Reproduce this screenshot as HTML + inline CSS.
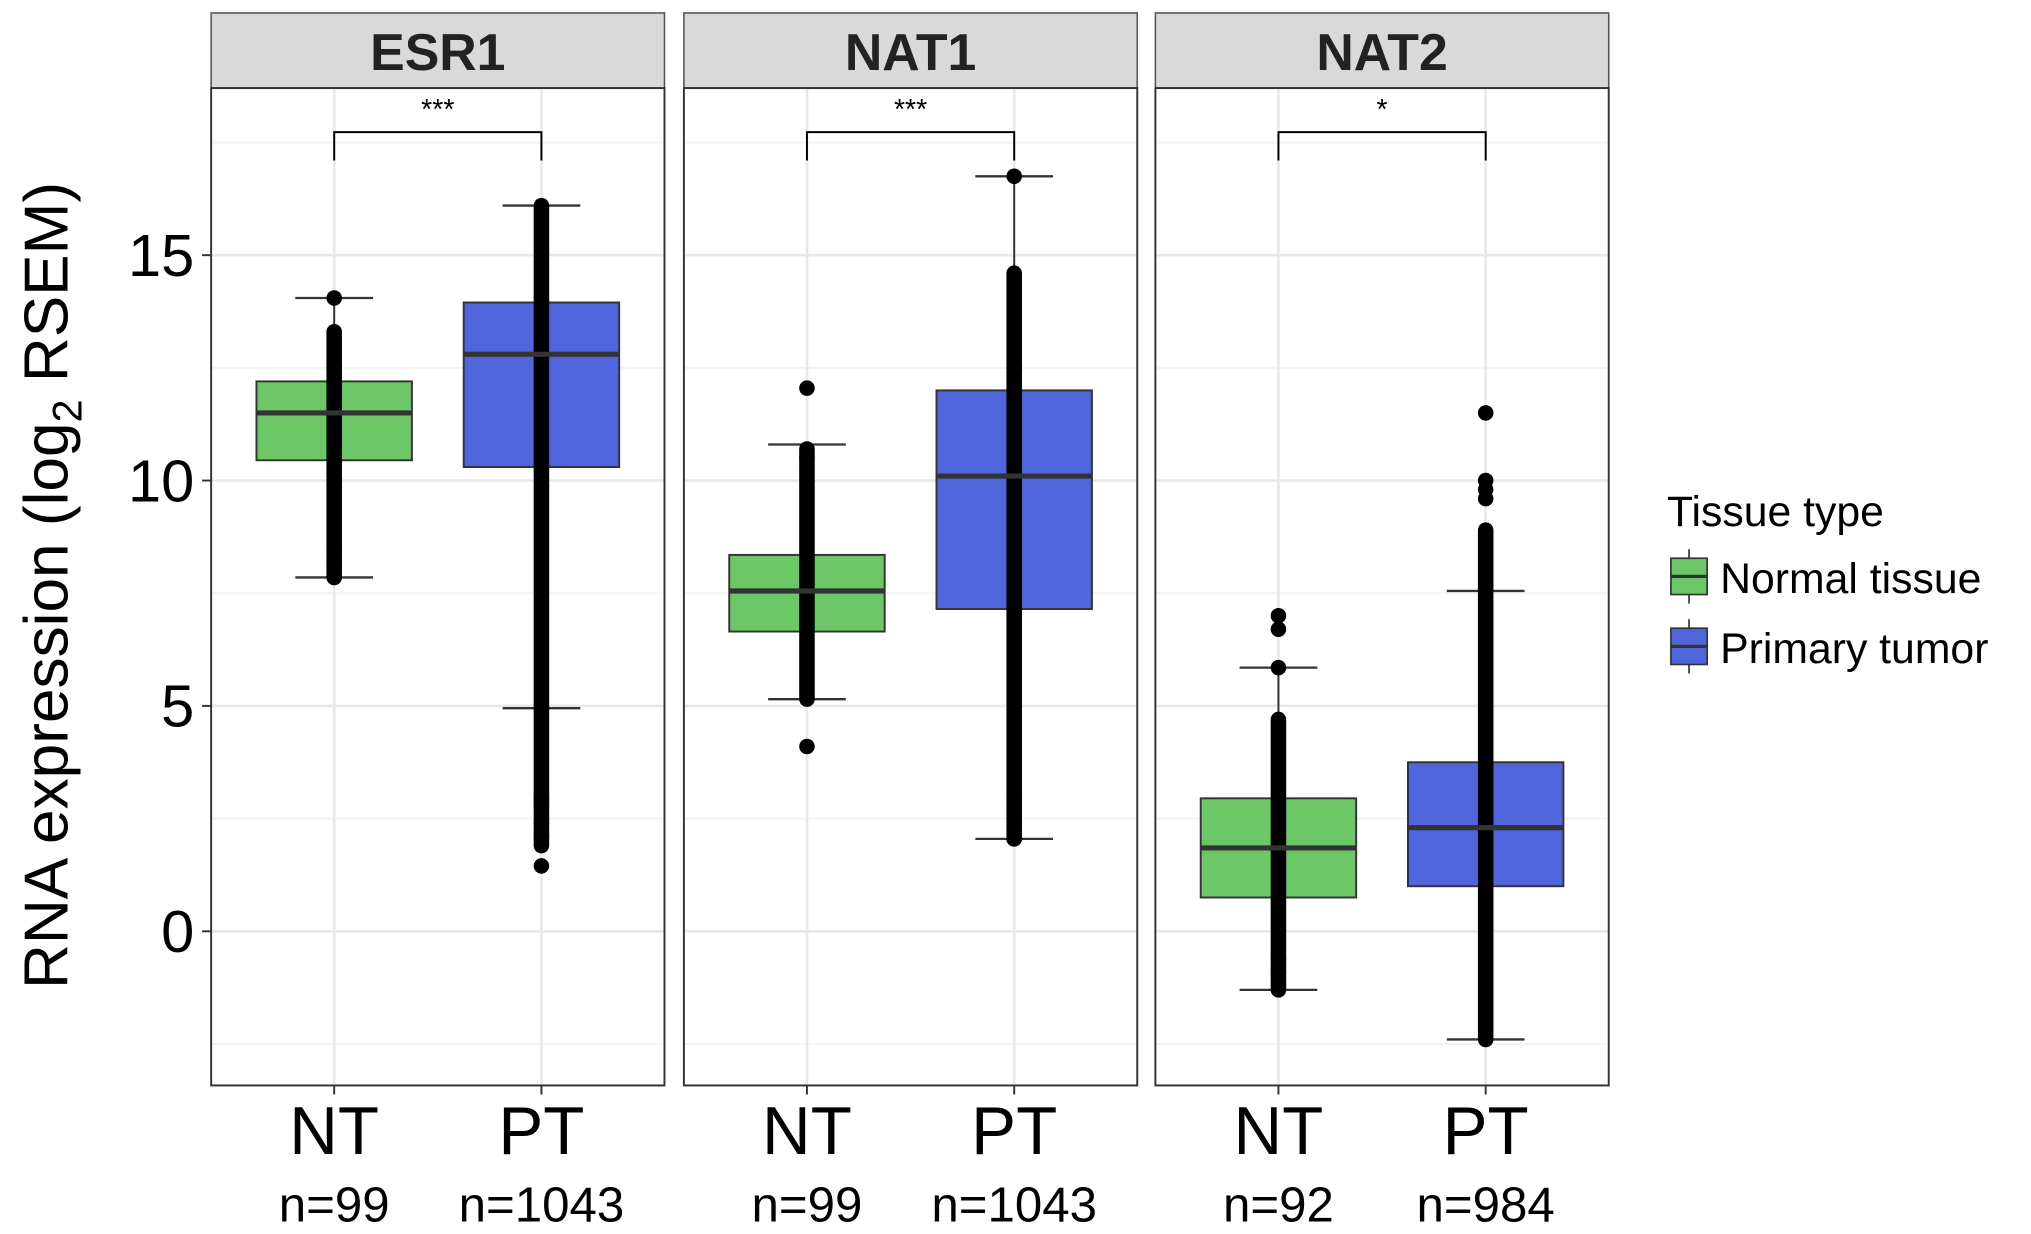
<!DOCTYPE html>
<html><head><meta charset="utf-8"><style>
html,body{margin:0;padding:0;background:#fff;}
svg{display:block;font-family:"Liberation Sans",Arial,sans-serif;}
</style></head><body>
<svg id="chart" width="2031" height="1234" viewBox="0 0 1568 952.7" xmlns="http://www.w3.org/2000/svg">
<g id="layer"></g>
<text transform="translate(52,452) rotate(-90)" text-anchor="middle" font-size="48" fill="#000">RNA expression (log<tspan font-size="32" dy="11">2</tspan><tspan dy="-11"> RSEM)</tspan></text>
<g>
<text x="1287" y="406" font-size="33" fill="#000">Tissue type</text>
<g>
<line x1="1304" y1="424" x2="1304" y2="466" stroke="#333" stroke-width="1.3"/>
<rect x="1290" y="431" width="28" height="28" fill="#6cc866" stroke="#333" stroke-width="1.3"/>
<line x1="1290" y1="445" x2="1318" y2="445" stroke="#333" stroke-width="2.5"/>
<text x="1328" y="458" font-size="33" fill="#000">Normal tissue</text></g>
<g>
<line x1="1304" y1="478" x2="1304" y2="520" stroke="#333" stroke-width="1.3"/>
<rect x="1290" y="485" width="28" height="28" fill="#4e65dc" stroke="#333" stroke-width="1.3"/>
<line x1="1290" y1="499" x2="1318" y2="499" stroke="#333" stroke-width="2.5"/>
<text x="1328" y="512" font-size="33" fill="#000">Primary tumor</text></g>
</g>
</svg>
<script>
const genes = ["ESR1","NAT1","NAT2"];
const groups = ["NT","PT"];
const nLabels = [["n=99","n=1043"],["n=99","n=1043"],["n=92","n=984"]];
const sigLabels = ["***","***","*"];
const q1 = [[10.45,10.3],[6.65,7.15],[0.75,1.0]];
const med = [[11.5,12.8],[7.55,10.1],[1.85,2.3]];
const q3 = [[12.2,13.95],[8.35,12.0],[2.95,3.75]];
const whiskLo = [[7.85,4.95],[5.15,2.05],[-1.3,-2.4]];
const whiskHi = [[14.05,16.1],[10.8,16.75],[5.85,7.55]];
const denseLo = [[7.85,1.9],[5.15,2.05],[-1.3,-2.4]];
const denseHi = [[13.3,16.1],[10.7,14.6],[4.7,8.9]];
const extraPts = [[[8.2,8.5,14.05],[1.45,2.1,2.4,2.8,2.95]],[[4.1,12.05,10.5],[2.05,2.6,3.0,16.75]],[[-0.9,-0.6,5.85,6.7,7.0],[9.6,9.8,10.0,11.5]]];
const yTicks = [0,5,10,15];
const yTickLabels = ["0","5","10","15"];
const yMinor = [-2.5,2.5,7.5,12.5,17.5];

const NS="http://www.w3.org/2000/svg";
const layer=document.getElementById('layer');
const panelX=[163,528,892], panelW=350, stripTop=10, stripBot=68, panelBot=838;
const yScale=v=>719-v*34.8;
const xCenter=(p,g)=>panelX[p]+95+g*160;
const boxW=120;
function mk(tag,attrs,parent){const e=document.createElementNS(NS,tag);for(const k in attrs)e.setAttribute(k,attrs[k]);(parent||layer).appendChild(e);return e;}
const fills=["#6cc866","#4e65dc"];
genes.forEach((gene,p)=>{
  const g=mk('g',{});
  
  
  const x0=panelX[p];
  const strip=mk('rect',{x:x0,y:stripTop,width:panelW,height:stripBot-stripTop,fill:'#d9d9d9',stroke:'#555','stroke-width':1.2},g);
  
  
  const st=mk('text',{x:x0+panelW/2,y:54,'text-anchor':'middle','font-size':40,'font-weight':'bold',fill:'#222'},g);
  st.textContent=gene;
  
  
  mk('rect',{x:x0,y:stripBot,width:panelW,height:panelBot-stripBot,fill:'#fff'},g);
  yMinor.forEach(v=>mk('line',{x1:x0,x2:x0+panelW,y1:yScale(v),y2:yScale(v),stroke:'#f3f3f3','stroke-width':1.5},g));
  yTicks.forEach(v=>mk('line',{x1:x0,x2:x0+panelW,y1:yScale(v),y2:yScale(v),stroke:'#e8e8e8','stroke-width':2},g));
  groups.forEach((gr,i)=>mk('line',{x1:xCenter(p,i),x2:xCenter(p,i),y1:stripBot,y2:panelBot,stroke:'#e8e8e8','stroke-width':2},g));
  groups.forEach((gr,i)=>{
    const cx=xCenter(p,i);
    const bg=mk('g',{},g);
    
    
    mk('line',{x1:cx,x2:cx,y1:yScale(whiskLo[p][i]),y2:yScale(whiskHi[p][i]),stroke:'#333','stroke-width':1.5},bg);
    [whiskLo[p][i],whiskHi[p][i]].forEach(v=>mk('line',{x1:cx-30,x2:cx+30,y1:yScale(v),y2:yScale(v),stroke:'#333','stroke-width':1.8},bg));
    mk('rect',{x:cx-boxW/2,y:yScale(q3[p][i]),width:boxW,height:yScale(q1[p][i])-yScale(q3[p][i]),fill:fills[i],stroke:'#333','stroke-width':1.5},bg);
    const pts=mk('g',{},bg);
    
    
    mk('line',{x1:cx,x2:cx,y1:yScale(denseLo[p][i]),y2:yScale(denseHi[p][i]),stroke:'#000','stroke-width':12,'stroke-linecap':'round'},pts);
    extraPts[p][i].forEach(v=>mk('circle',{cx:cx,cy:yScale(v),r:6,fill:'#000'},pts));
    mk('line',{x1:cx-boxW/2,x2:cx+boxW/2,y1:yScale(med[p][i]),y2:yScale(med[p][i]),stroke:'#333','stroke-width':4},bg);
    const tl=mk('text',{x:cx,y:891,'text-anchor':'middle','font-size':52,fill:'#000'},g);
    tl.textContent=gr;
    
    
    const nl=mk('text',{x:cx,y:943,'text-anchor':'middle','font-size':38,fill:'#000'},g);
    nl.textContent=nLabels[p][i];
    
    
    mk('line',{x1:cx,x2:cx,y1:panelBot,y2:panelBot+7,stroke:'#333','stroke-width':1.5},g);
  });
  const a=xCenter(p,0), b=xCenter(p,1);
  const br=mk('path',{d:`M${a},${yScale(17.1)}V${yScale(17.73)}H${b}V${yScale(17.1)}`,fill:'none',stroke:'#000','stroke-width':1.5},g);
  
  
  const sl=mk('text',{x:(a+b)/2,y:92,'text-anchor':'middle','font-size':22,fill:'#000'},g);
  sl.textContent=sigLabels[p];
  
  
  mk('rect',{x:x0,y:stripBot,width:panelW,height:panelBot-stripBot,fill:'none',stroke:'#333','stroke-width':1.5},g);
});
yTicks.forEach((v,i)=>{
  mk('line',{x1:156,x2:163,y1:yScale(v),y2:yScale(v),stroke:'#333','stroke-width':1.5});
  const t=mk('text',{x:150,y:yScale(v)+16,'text-anchor':'end','font-size':46,fill:'#000'});
  t.textContent=yTickLabels[i];
  
  
});
</script>
</body></html>
